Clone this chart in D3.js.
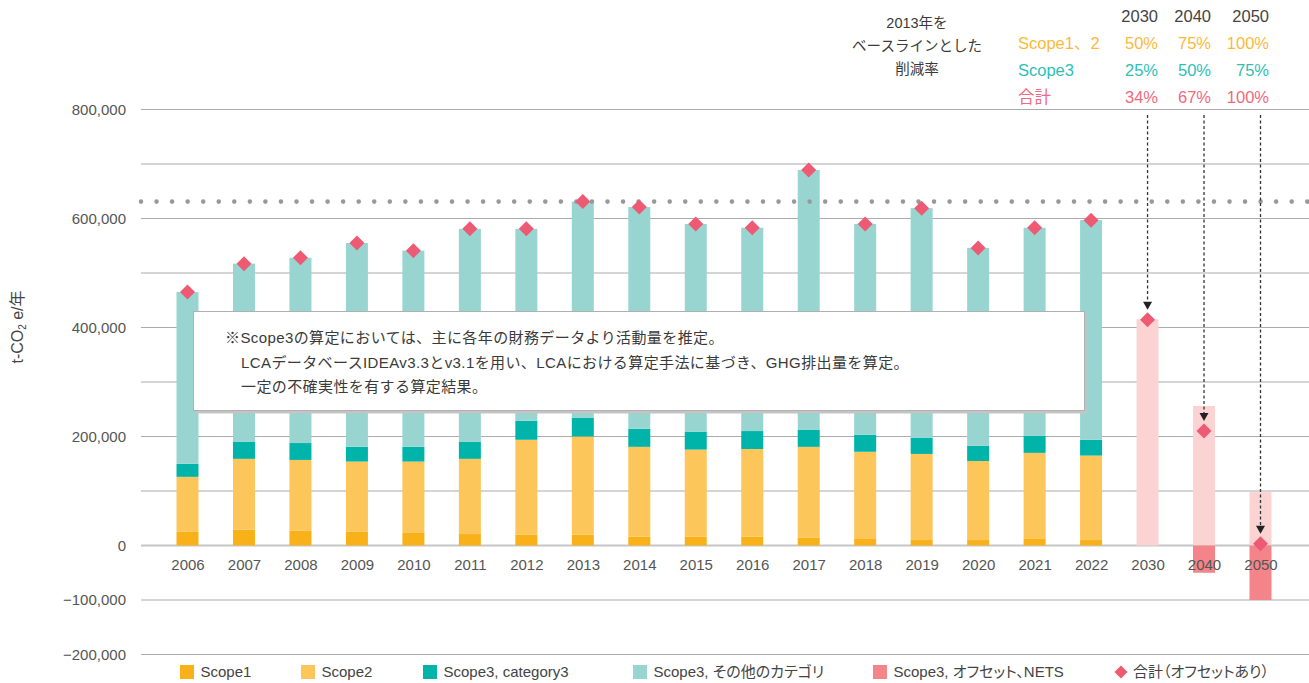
<!DOCTYPE html>
<html><head><meta charset="utf-8">
<script src="https://cdn.jsdelivr.net/npm/d3@7"></script>
<style>
body{margin:0;background:#fff}
svg text{font-family:"Liberation Sans",Arial,"Noto Sans CJK JP",sans-serif;}
.palt{font-feature-settings:"palt" 1;}
</style>
</head><body>
<svg id="c" width="1309" height="683"></svg>
<script>
// ---------- data ----------
const years = ["2006","2007","2008","2009","2010","2011","2012","2013","2014","2015","2016","2017","2018","2019","2020","2021","2022","2030","2040","2050"];
const histYears = years.slice(0,17);
const futureYears = ["2030","2040","2050"];

const scope1      = [25000,29000,27000,25000,23000,21000,20000,20000,16000,16000,16000,14000,12000,10000,10000,12000,10000];
const scope2      = [101000,130000,130000,129000,131000,138000,174000,180000,165000,160000,161000,167000,160000,158000,145000,158000,155000];
const scope3cat3  = [24000,31000,31000,27000,27000,31000,35000,34000,33000,33000,33000,31000,31000,30000,28000,31000,29000];
const scope3other = [315000,327000,340000,374000,360000,391000,352000,397000,407000,381000,373000,477000,387000,421000,363000,382000,403000];

const targetGross = [415000,256000,98000];     // target emissions (light pink bars)
const offsetNets  = [0,-50000,-100000];         // Scope3 offset / NETS
const targetNet   = [414000,210000,3000];       // 合計（オフセットあり） for target years
const baseline2013 = 631000;

const yGrid  = [-200000,-100000,0,100000,200000,300000,400000,500000,600000,700000,800000];
const yTicks = [800000,600000,400000,200000,0,-100000,-200000];

const tableYears = ["2030","2040","2050"];
const tableRows = ["Scope1、2","Scope3","合計"];
const rateScope12 = ["50%","75%","100%"];
const rateScope3  = ["25%","50%","75%"];
const rateTotal   = ["34%","67%","100%"];
const tableTitle = ["2013年を","ベースラインとした","削減率"];

const noteLines = [
  "※Scope3の算定においては、主に各年の財務データより活動量を推定。",
  "LCAデータベースIDEAv3.3とv3.1を用い、LCAにおける算定手法に基づき、GHG排出量を算定。",
  "一定の不確実性を有する算定結果。"
];

const legendItems = ["Scope1","Scope2","Scope3, category3","Scope3, その他のカテゴリ","Scope3, オフセット、NETS","合計（オフセットあり）"];

// ---------- styles ----------
const colors = {
  scope1:"#F8B119", scope2:"#FCC65B", cat3:"#00B4AA", other:"#98D5D1",
  offset:"#F2848A", target:"#FBD3D3", diamond:"#EE5A73",
  t12:"#FBB93A", t3:"#2EC0B6", tTot:"#EF6A7F"
};

const svg = d3.select("#c");
const x = d3.scalePoint().domain(years).range([187.5,1260.5]);
const y = d3.scaleLinear().domain([-200000,800000]).range([654.5,109.5]);
const bw = 22;

// gridlines
svg.append("g").selectAll("line").data(yGrid).join("line")
  .attr("x1",141).attr("x2",1309)
  .attr("y1",d=>y(d)).attr("y2",d=>y(d))
  .attr("stroke",d=>d===0?"#c6c6c6":"#acacac")
  .attr("stroke-width",d=>d===0?2:1.2);

// y axis
const yAxis = svg.append("g").attr("transform","translate(126,0)")
  .call(d3.axisLeft(y).tickValues(yTicks).tickSize(0).tickPadding(0).tickFormat(d3.format(",")));
yAxis.select(".domain").remove();
yAxis.selectAll("text").attr("font-size",15).attr("fill","#555")
  .style("font-family",'"Liberation Sans",Arial,sans-serif');

// y label
svg.append("text")
  .attr("transform","translate(23,327) rotate(-90)")
  .attr("text-anchor","middle").attr("font-size",16).attr("fill","#444")
  .call(t=>{
    t.append("tspan").text("t-CO");
    t.append("tspan").text("2").attr("font-size",10).attr("dy",3);
    t.append("tspan").text(" e/年").attr("dy",-3);
  });

// stacked historical bars
const rows = histYears.map((yr,i)=>({year:yr, scope1:scope1[i], scope2:scope2[i], cat3:scope3cat3[i], other:scope3other[i]}));
const keys = ["scope1","scope2","cat3","other"];
const series = d3.stack().keys(keys)(rows);
svg.append("g").selectAll("g").data(series).join("g")
  .attr("fill",d=>colors[d.key])
  .selectAll("rect").data(d=>d).join("rect")
  .attr("x",d=>x(d.data.year)-bw/2).attr("width",bw)
  .attr("y",d=>y(d[1])).attr("height",d=>y(d[0])-y(d[1]));

// target bars
svg.append("g").selectAll("rect").data(futureYears).join("rect")
  .attr("x",d=>x(d)-bw/2).attr("width",bw)
  .attr("y",(d,i)=>y(targetGross[i])).attr("height",(d,i)=>y(0)-y(targetGross[i]))
  .attr("fill",colors.target);
svg.append("g").selectAll("rect").data(futureYears).join("rect")
  .attr("x",d=>x(d)-bw/2).attr("width",bw)
  .attr("y",y(0)).attr("height",(d,i)=>y(offsetNets[i])-y(0))
  .attr("fill",colors.offset);

// x axis (on top of bars)
const xAxis = svg.append("g").attr("transform",`translate(0,${y(0)})`)
  .call(d3.axisBottom(x).tickSize(0).tickPadding(14));
xAxis.select(".domain").remove();
xAxis.selectAll("text").attr("font-size",15).attr("fill","#555")
  .style("font-family",'"Liberation Sans",Arial,sans-serif');

// annotation box
svg.append("rect").attr("x",195.5).attr("y",313.5).attr("width",891).attr("height",100).attr("fill","#c4c4c4");
svg.append("rect").attr("x",193.5).attr("y",311.5).attr("width",891).attr("height",99)
  .attr("fill","#fff").attr("stroke","#b0b0b0").attr("stroke-width",1);
const note = svg.append("g");
note.selectAll("text").data(noteLines).join("text")
  .attr("x",(d,i)=>i===0?225:241).attr("y",(d,i)=>343+i*24.5)
  .attr("font-size",15).attr("fill","#3a3a3a").attr("letter-spacing",0.4)
  .text(d=>d);

// baseline dotted line
svg.append("line").attr("x1",141).attr("x2",1309)
  .attr("y1",y(baseline2013)).attr("y2",y(baseline2013))
  .attr("stroke","#999").attr("stroke-width",4.6)
  .attr("stroke-linecap","round").attr("stroke-dasharray","0,15.55");

// arrows
const ar = svg.append("g");
futureYears.forEach((yr,i)=>{
  const cx = x(yr), tip = y(targetNet[i]) - 10;
  ar.append("line").attr("x1",cx).attr("x2",cx).attr("y1",115).attr("y2",tip-7)
    .attr("stroke","#333").attr("stroke-width",1.3).attr("stroke-dasharray","3,2.5");
  ar.append("path").attr("d",`M${cx-4.5},${tip-8}L${cx+4.5},${tip-8}L${cx},${tip}Z`).attr("fill","#222");
});

// diamonds
const diamond = "M0,-7.5L7.5,0L0,7.5L-7.5,0Z";
const totals = rows.map(r=>({year:r.year, v:r.scope1+r.scope2+r.cat3+r.other}))
  .concat(futureYears.map((yr,i)=>({year:yr, v:targetNet[i]})));
svg.append("g").selectAll("path").data(totals).join("path")
  .attr("d",diamond).attr("fill",colors.diamond)
  .attr("transform",d=>`translate(${x(d.year)},${y(d.v)})`);

// top table
const tb = svg.append("g");
tb.selectAll(".tt").data(tableTitle).join("text")
  .attr("x",917).attr("y",(d,i)=>28+i*23).attr("text-anchor","middle")
  .attr("font-size",14.5).attr("fill","#3a3a3a").text(d=>d);
const colX = [1158,1211,1269];
tb.selectAll(".hy").data(tableYears).join("text")
  .attr("x",(d,i)=>colX[i]).attr("y",22).attr("text-anchor","end")
  .attr("font-size",16.5).attr("fill","#444").text(d=>d);
const rowData = [rateScope12, rateScope3, rateTotal];
const rowColors = [colors.t12, colors.t3, colors.tTot];
tableRows.forEach((lab,r)=>{
  const yy = 49 + r*27;
  tb.append("text").attr("x",1018).attr("y",yy).attr("font-size",16.5).attr("fill",rowColors[r]).text(lab);
  rowData[r].forEach((v,c)=>{
    tb.append("text").attr("x",colX[c]).attr("y",yy).attr("text-anchor","end")
      .attr("font-size",16.5).attr("fill",rowColors[r]).text(v);
  });
});

// legend
const legX = [180,301,423,633,873,1121];
const legCol = [colors.scope1,colors.scope2,colors.cat3,colors.other,colors.offset];
const lg = svg.append("g");
legendItems.forEach((lab,i)=>{
  if(i<5){
    lg.append("rect").attr("x",legX[i]).attr("y",665).attr("width",14).attr("height",14).attr("fill",legCol[i]);
    lg.append("text").attr("class","palt").attr("x",legX[i]+20.5).attr("y",677)
      .attr("font-size",15).attr("fill","#444").text(lab);
  } else {
    lg.append("path").attr("d","M0,-6.5L6.5,0L0,6.5L-6.5,0Z").attr("fill",colors.diamond)
      .attr("transform",`translate(${legX[i]},672)`);
    lg.append("text").attr("class","palt").attr("x",legX[i]+12).attr("y",677)
      .attr("font-size",15).attr("fill","#444").text(lab);
  }
});
</script>
</body></html>
